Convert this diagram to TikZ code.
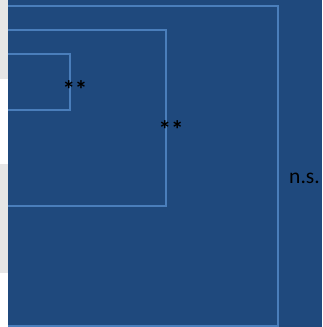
\documentclass[tikz,border=0pt]{standalone}
\usepackage{fontspec}
\setmainfont{Carlito}
\definecolor{bgblue}{RGB}{31,73,125}
\definecolor{edgeblue}{RGB}{74,126,187}
\definecolor{stripgray}{RGB}{230,230,230}
\tikzset{
  frame/.style={draw=edgeblue, line width=2pt},
  lbl/.style={inner sep=0pt, font=\fontsize{21.5}{26}\selectfont, text=black},
  stars/.style={inner sep=0pt, font=\fontsize{25}{30}\selectfont\bfseries, text=black},
}
\begin{document}
\begin{tikzpicture}[x=1pt,y=-1pt]
\useasboundingbox (0,0) rectangle (322,327);
\fill[white] (0,0) rectangle (322,327);
\fill[stripgray] (0,0) rectangle (8,79);
\fill[stripgray] (0,164) rectangle (8,273);
\fill[bgblue] (8,0) rectangle (322,327);
\begin{scope}
\clip (8,0) rectangle (322,327);
\draw[frame] (-20,6) rectangle (277.7,325.5);
\draw[frame] (-20,30) rectangle (165.7,205.7);
\draw[frame] (-20,54) rectangle (69.7,109.7);
\end{scope}
\node[stars] (s1) at (75,90) {**};
\node[stars] (s2) at (171,130) {**};
\node[lbl] (ns) at (304.5,178.5) {n.s.};
\end{tikzpicture}
\end{document}
